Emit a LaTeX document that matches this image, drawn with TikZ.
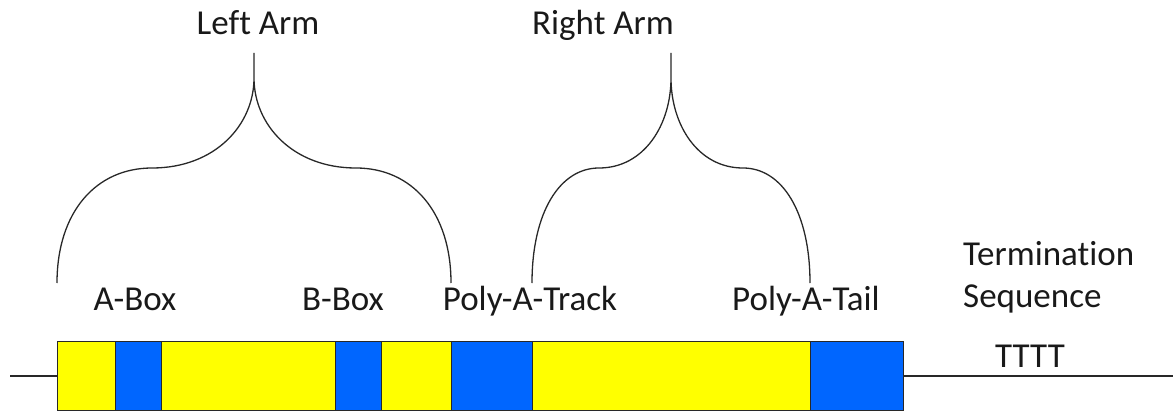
\documentclass[tikz,border=0pt]{standalone}
\usepackage{fontspec}
\setmainfont{Carlito}[Ligatures=NoCommon]
\definecolor{segyellow}{RGB}{255,255,0}
\definecolor{segblue}{RGB}{0,102,255}
\definecolor{inkc}{RGB}{40,40,40}
\tikzset{
  seg/.style={draw=inkc,line width=1pt,inner sep=0pt,minimum height=69pt,anchor=north west,rectangle},
  yseg/.style={seg,fill=segyellow},
  bseg/.style={seg,fill=segblue},
  lbl/.style={font=\fontsize{35}{40}\selectfont,inner sep=0pt,anchor=base,text=black!90},
  bracec/.style={draw=inkc,line width=1.3pt},
  strand/.style={draw=inkc,line width=1.3pt}
}
\begin{document}
\begin{tikzpicture}[x=1pt,y=-1pt]
\useasboundingbox (0,0) rectangle (1173,412);
% strand
\coordinate (sL) at (10,376);
\coordinate (sR) at (1173,376);
\node[yseg,minimum width=58pt] (s1) at (57,341) {};
\node[bseg,minimum width=46pt] (s2) at (115,341) {};
\node[yseg,minimum width=174pt] (s3) at (161,341) {};
\node[bseg,minimum width=46pt] (s4) at (335,341) {};
\node[yseg,minimum width=70pt] (s5) at (381,341) {};
\node[bseg,minimum width=81pt] (s6) at (451,341) {};
\node[yseg,minimum width=278pt] (s7) at (532,341) {};
\node[bseg,minimum width=93pt] (s8) at (810,341) {};
\draw[strand] (sL) -- (s1.west);
\draw[strand] (s8.east) -- (sR);
% braces
\coordinate (la) at (57,283);
\coordinate (lb) at (451,283);
\coordinate (ra) at (532,283);
\coordinate (rb) at (810,283);
% left brace, h = 197
\draw[bracec] (la) .. controls (57,212) and (96,168) .. (152,168)
  .. controls (215,168) and (254,125) .. (254,78) -- (254,53)
  -- (254,78) .. controls (254,125) and (293,168) .. (356,168)
  .. controls (412,168) and (451,212) .. (lb);
% right brace, h = 139
\draw[bracec] (ra) .. controls (532,212) and (560,168) .. (599,168)
  .. controls (644,168) and (671,125) .. (671,78) -- (671,53)
  -- (671,78) .. controls (671,125) and (698,168) .. (743,168)
  .. controls (782,168) and (810,212) .. (rb);
% labels
\node[lbl] (leftarm) at (258,35) {Left Arm};
\node[lbl] (rightarm) at (603,35) {Right Arm};
\node[lbl] (abox) at (135,310) {A-Box};
\node[lbl] (bbox) at (343,310) {B-Box};
\node[lbl] (track) at (530,310) {Poly-A-Track};
\node[lbl] (tail) at (806,310) {Poly-A-Tail};
\node[lbl,anchor=base west] (term1) at (963,265) {Termination};
\node[lbl,anchor=base west] (term2) at (963,307) {Sequence};
\node[lbl] (tttt) at (1030,367) {TTTT};
\end{tikzpicture}
\end{document}
